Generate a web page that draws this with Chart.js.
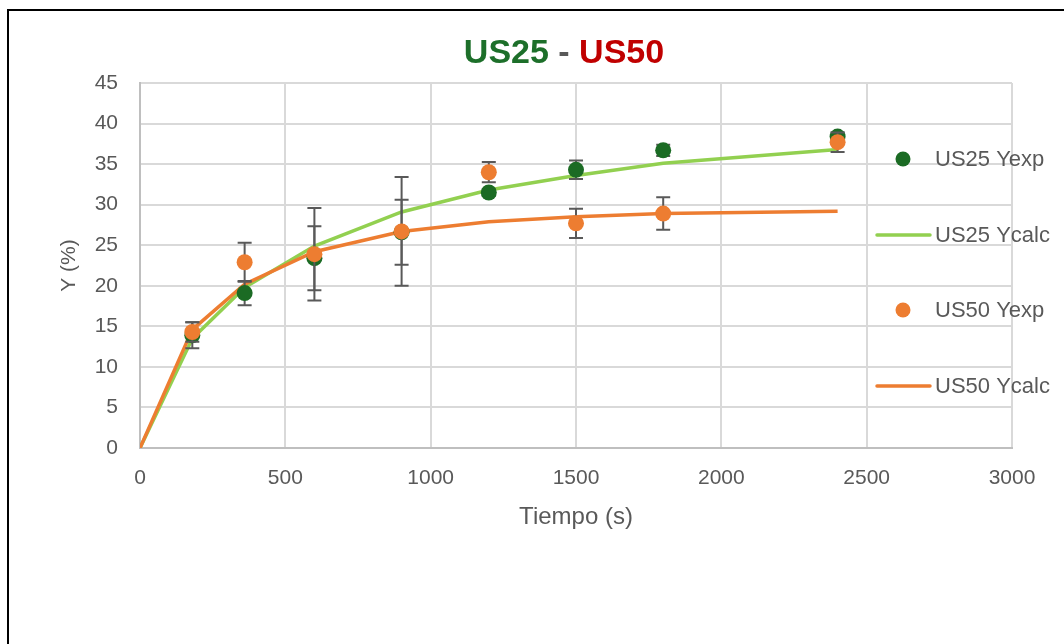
<!DOCTYPE html>
<html lang="es">
<head>
<meta charset="utf-8">
<title>US25 - US50</title>
<script src="https://cdn.jsdelivr.net/npm/chart.js@4.4.1/dist/chart.umd.min.js"></script>
<style>
  html, body { margin: 0; padding: 0; background: #ffffff; }
  #wrap { width: 1064px; height: 644px; }
</style>
</head>
<body>
<div id="wrap"><canvas id="chart" width="1064" height="644"></canvas></div>
<script>
// Times of the model curves (s)
const tiempoCalc = [0, 180, 360, 600, 900, 1200, 1500, 1800, 2400];
// Times of the measured samples (s)
const tiempoExp = [180, 360, 600, 900, 1200, 1500, 1800, 2400];

// US25: measured yield, its error, and model curve (%)
const us25Yexp  = [13.9, 19.1, 23.4, 26.6, 31.5, 34.3, 36.7, 38.4];
const us25Err   = [1.6, 1.5, 3.95, 4.0, 0.4, 1.15, 0.7, 0.5];
const us25Ycalc = [0, 13.5, 19.8, 24.9, 29.1, 31.8, 33.6, 35.1, 36.8];

// US50: measured yield, its error, and model curve (%)
const us50Yexp  = [14.3, 22.9, 23.9, 26.7, 34.0, 27.7, 28.9, 37.7];
const us50Err   = [1.2, 2.4, 5.7, 6.7, 1.25, 1.8, 2.0, 1.2];
const us50Ycalc = [0, 14.6, 20.2, 24.2, 26.7, 27.9, 28.5, 28.9, 29.2];

// Axis ticks
const xTicks = [0, 500, 1000, 1500, 2000, 2500, 3000];
const yTicks = [0, 5, 10, 15, 20, 25, 30, 35, 40, 45];

const FONT = "'Liberation Sans', Arial, sans-serif";
const TEXT_GREY = '#595959';
const DARK_GREEN = '#1B6B24';
const LIGHT_GREEN = '#92D050';
const ORANGE = '#ED7D31';

const pts = (xs, ys) => xs.map((x, i) => ({ x: x, y: ys[i] }));

// Vertical error bars for scatter datasets, drawn just beneath each dataset's markers
const errorBars = {
  id: 'errorBars',
  beforeDatasetDraw(chart, args) {
    const ds = chart.data.datasets[args.index];
    if (!ds.errors) return;
    const { ctx, scales: { x, y } } = chart;
    ctx.save();
    ctx.strokeStyle = '#595959';
    ctx.lineWidth = 2;
    const cap = 7;
    ds.data.forEach((p, i) => {
      const e = ds.errors[i];
      if (!e) return;
      const px = x.getPixelForValue(p.x);
      const top = y.getPixelForValue(p.y + e);
      const bot = y.getPixelForValue(p.y - e);
      ctx.beginPath();
      ctx.moveTo(px, top); ctx.lineTo(px, bot);
      ctx.moveTo(px - cap, top); ctx.lineTo(px + cap, top);
      ctx.moveTo(px - cap, bot); ctx.lineTo(px + cap, bot);
      ctx.stroke();
    });
    ctx.restore();
  }
};

// Two-colour title, frame and legend panel
const decorations = {
  id: 'decorations',
  afterDraw(chart) {
    const ctx = chart.ctx;
    ctx.save();

    // frame
    ctx.strokeStyle = '#000000';
    ctx.lineWidth = 2;
    ctx.strokeRect(8, 10, 1120, 700);

    // title
    ctx.font = 'bold 34px ' + FONT;
    ctx.textBaseline = 'alphabetic';
    const parts = [
      { t: 'US25', c: '#1D6F2A' },
      { t: ' - ', c: TEXT_GREY },
      { t: 'US50', c: '#C00000' }
    ];
    const total = parts.reduce((s, p) => s + ctx.measureText(p.t).width, 0);
    let tx = 564 - total / 2;
    parts.forEach(p => {
      ctx.fillStyle = p.c;
      ctx.textAlign = 'left';
      ctx.fillText(p.t, tx, 63);
      tx += ctx.measureText(p.t).width;
    });

    // legend
    const rows = [159, 235, 310, 386];
    const items = chart.options.plugins.customLegend.order.map(i => chart.data.datasets[i]);
    ctx.font = '22px ' + FONT;
    ctx.textBaseline = 'middle';
    ctx.textAlign = 'left';
    items.forEach((ds, k) => {
      const yy = rows[k];
      if (ds.showLine === false) {
        ctx.fillStyle = ds.backgroundColor;
        ctx.beginPath();
        ctx.arc(903, yy, 7.5, 0, Math.PI * 2);
        ctx.fill();
      } else {
        ctx.strokeStyle = ds.borderColor;
        ctx.lineWidth = 3.5;
        ctx.lineCap = 'round';
        ctx.beginPath();
        ctx.moveTo(877, yy);
        ctx.lineTo(930, yy);
        ctx.stroke();
      }
      ctx.fillStyle = TEXT_GREY;
      ctx.fillText(ds.label, 935, yy + 1);
    });
    ctx.restore();
  }
};

new Chart(document.getElementById('chart'), {
  type: 'scatter',
  data: {
    datasets: [
      {
        label: 'US25 Yexp',
        data: pts(tiempoExp, us25Yexp),
        errors: us25Err,
        showLine: false,
        backgroundColor: DARK_GREEN,
        borderColor: DARK_GREEN,
        pointRadius: 8,
        pointBorderWidth: 0,
        order: 1
      },
      {
        label: 'US25 Ycalc',
        data: pts(tiempoCalc, us25Ycalc),
        showLine: true,
        borderColor: LIGHT_GREEN,
        backgroundColor: LIGHT_GREEN,
        borderWidth: 3.5,
        pointRadius: 0,
        tension: 0,
        order: 3
      },
      {
        label: 'US50 Yexp',
        data: pts(tiempoExp, us50Yexp),
        errors: us50Err,
        showLine: false,
        backgroundColor: ORANGE,
        borderColor: ORANGE,
        pointRadius: 8,
        pointBorderWidth: 0,
        order: 0
      },
      {
        label: 'US50 Ycalc',
        data: pts(tiempoCalc, us50Ycalc),
        showLine: true,
        borderColor: ORANGE,
        backgroundColor: ORANGE,
        borderWidth: 3.5,
        pointRadius: 0,
        tension: 0,
        order: 2
      }
    ]
  },
  options: {
    responsive: false,
    animation: false,
    devicePixelRatio: 1,
    layout: { padding: { left: 53, top: 83, right: 52, bottom: 108 } },
    plugins: {
      legend: { display: false },
      title: { display: false },
      tooltip: { enabled: false },
      customLegend: { order: [0, 1, 2, 3] }
    },
    scales: {
      x: {
        type: 'linear',
        min: xTicks[0],
        max: xTicks[xTicks.length - 1],
        afterBuildTicks: s => { s.ticks = xTicks.map(v => ({ value: v })); },
        afterFit: s => { s.height = 88; },
        grid: { color: '#D9D9D9', lineWidth: 2, drawTicks: false },
        border: { color: '#BFBFBF', width: 2 },
        ticks: {
          color: TEXT_GREY, font: { family: FONT, size: 21 }, padding: 18, maxRotation: 0,
          callback: v => String(v)
        },
        title: { display: true, text: 'Tiempo (s)', color: TEXT_GREY, font: { family: FONT, size: 24 }, padding: { top: 4, bottom: 4 } }
      },
      y: {
        type: 'linear',
        min: yTicks[0],
        max: yTicks[yTicks.length - 1],
        afterBuildTicks: s => { s.ticks = yTicks.map(v => ({ value: v })); },
        afterFit: s => { s.width = 87; },
        grid: { color: '#D9D9D9', lineWidth: 2, drawTicks: false },
        border: { color: '#BFBFBF', width: 2 },
        ticks: { color: TEXT_GREY, font: { family: FONT, size: 21 }, padding: 22, callback: v => String(v) },
        title: { display: true, text: 'Y (%)', color: TEXT_GREY, font: { family: FONT, size: 21 }, padding: { top: 4, bottom: 4 } }
      }
    }
  },
  plugins: [errorBars, decorations]
});
</script>
</body>
</html>
